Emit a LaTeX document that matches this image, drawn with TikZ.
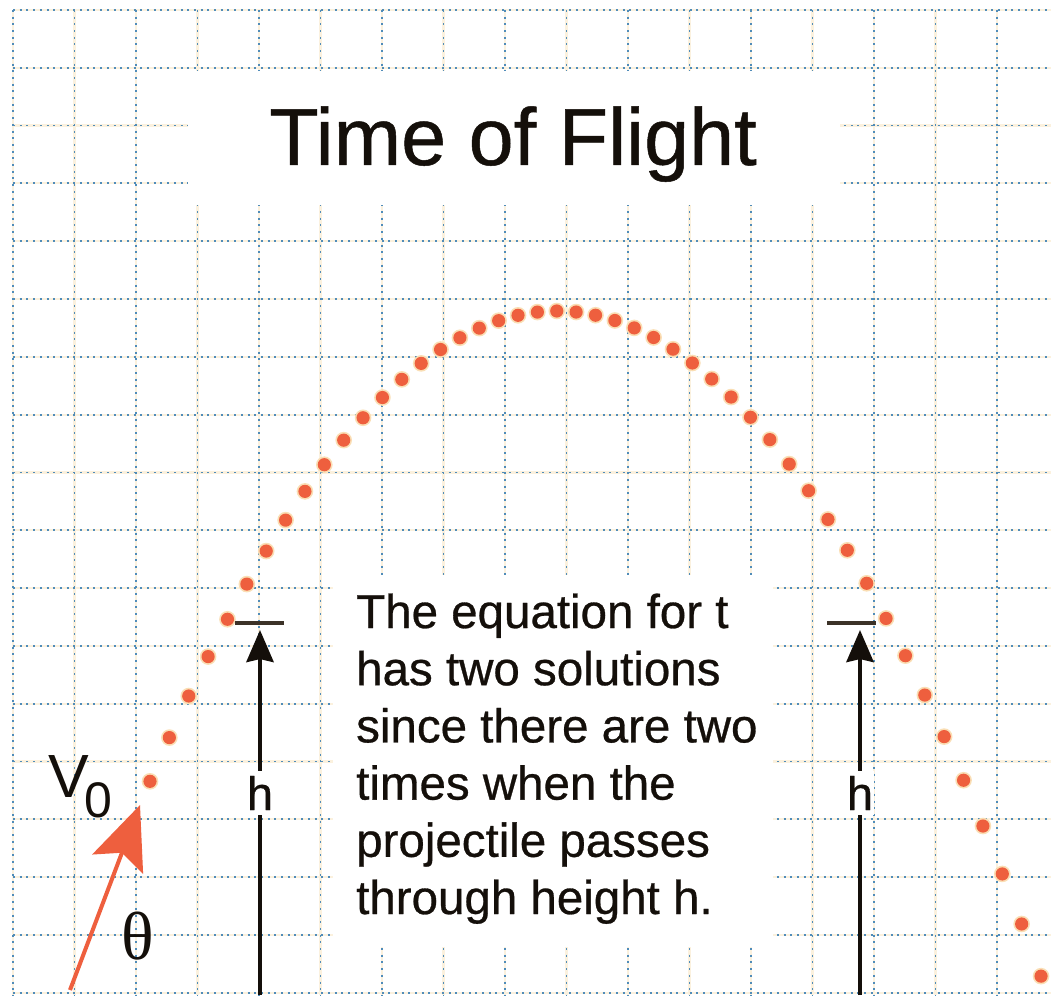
\documentclass[tikz,border=0pt]{standalone}
\usepackage{fontspec}
\setmainfont{Liberation Sans}
\newfontfamily\thetafont{Liberation Serif}
\usetikzlibrary{arrows.meta}
\definecolor{gridblue}{RGB}{80,140,185}
\definecolor{halo}{RGB}{251,241,222}
\definecolor{dothalo}{RGB}{250,222,180}
\definecolor{dotred}{RGB}{238,95,62}
\definecolor{barcol}{RGB}{60,50,40}
\definecolor{ink}{RGB}{20,15,10}
\begin{document}
\begin{tikzpicture}[x=1pt,y=-1pt,
  gridhalo/.style={halo, line width=2.2pt},
  griddots/.style={gridblue, line width=1.8pt, dash pattern=on 2pt off 4.7pt},
  harrow/.style={ink, line width=4.5pt, -{Stealth[length=32pt,width=27pt,inset=3pt]}},
  hbar/.style={barcol, line width=3.5pt},
  hlabel/.style={fill=white, inner xsep=1pt, inner ysep=5pt, text=ink, font=\fontsize{47}{47}\selectfont\addfontfeature{FakeBold=0.6}},
  vzero/.style={dotred, line width=4pt, -{Stealth[length=63pt,width=54pt,inset=12pt]}},
  traj/.style={dotred},
  trajhalo/.style={dothalo}
]
\useasboundingbox (0,0) rectangle (1051,995);
\fill[white] (0,0) rectangle (1051,995);

% grid
\foreach \k in {0,...,16}{
  \draw[gridhalo] ({13+61.5*\k},10) -- ({13+61.5*\k},995);
}
\foreach \j in {0,...,17}{
  \draw[gridhalo] (13,{10+57.8*\j}) -- (1051,{10+57.8*\j});
}
\foreach \k in {0,...,16}{
  \draw[griddots] ({13+61.5*\k},10) -- ({13+61.5*\k},995);
}
\foreach \j in {0,...,17}{
  \draw[griddots] (13,{10+57.8*\j}) -- (1051,{10+57.8*\j});
}

% white areas behind the texts
\fill[white] (188,71) rectangle (840,205);
\fill[white] (333,575) rectangle (773,947);

% title
\node[anchor=base, inner sep=0, text=ink, font=\fontsize{81}{81}\selectfont\addfontfeature{FakeBold=0.6}] (title) at (513,165) {Time of Flight};

% explanation
\node[anchor=base west, inner sep=0, text=ink, font=\fontsize{47.5}{57.2}\selectfont\addfontfeature{FakeBold=0.6}] (expl) at (356,628)
  {\begin{tabular}[t]{@{}l@{}}The equation for t\\has two solutions\\since there are two\\times when the\\projectile passes\\through height h.\end{tabular}};

% trajectory dots
\foreach \i in {0,...,46}{
  \pgfmathsetmacro\xx{150+19.37*\i}
  \pgfmathsetmacro\yy{311+(0.05329*(\xx-557))^2}
  \fill[trajhalo] (\xx,\yy) circle (8.3);
  \fill[traj] (\xx,\yy) circle (6.6);
}

% height markers
\coordinate (hLb) at (260,995);
\coordinate (hLt) at (260,630);
\coordinate (hRb) at (860,995);
\coordinate (hRt) at (860,630);
\coordinate (barL1) at (235,623);
\coordinate (barL2) at (284,623);
\coordinate (barR1) at (827,623);
\coordinate (barR2) at (876,623);
\draw[hbar] (barL1) -- (barL2);
\draw[hbar] (barR1) -- (barR2);
\draw[harrow] (hLb) -- (hLt);
\draw[harrow] (hRb) -- (hRt);
\node[hlabel] (hL) at (260,793) {h};
\node[hlabel] (hR) at (860,793) {h};

% initial velocity
\coordinate (v0tail) at (70,990);
\coordinate (v0tip) at (140,805);
\draw[vzero] (v0tail) -- (v0tip);
\node[anchor=base west, inner sep=0, text=ink] (v0) at (48,797)
  {\fontsize{61}{61}\selectfont V\kern-4pt\raisebox{-20pt}{\fontsize{50}{50}\selectfont 0}};
\node[anchor=base, inner sep=0, text=ink, font=\thetafont\fontsize{68}{68}\selectfont] (theta) at (138,959) {θ};
\end{tikzpicture}
\end{document}
